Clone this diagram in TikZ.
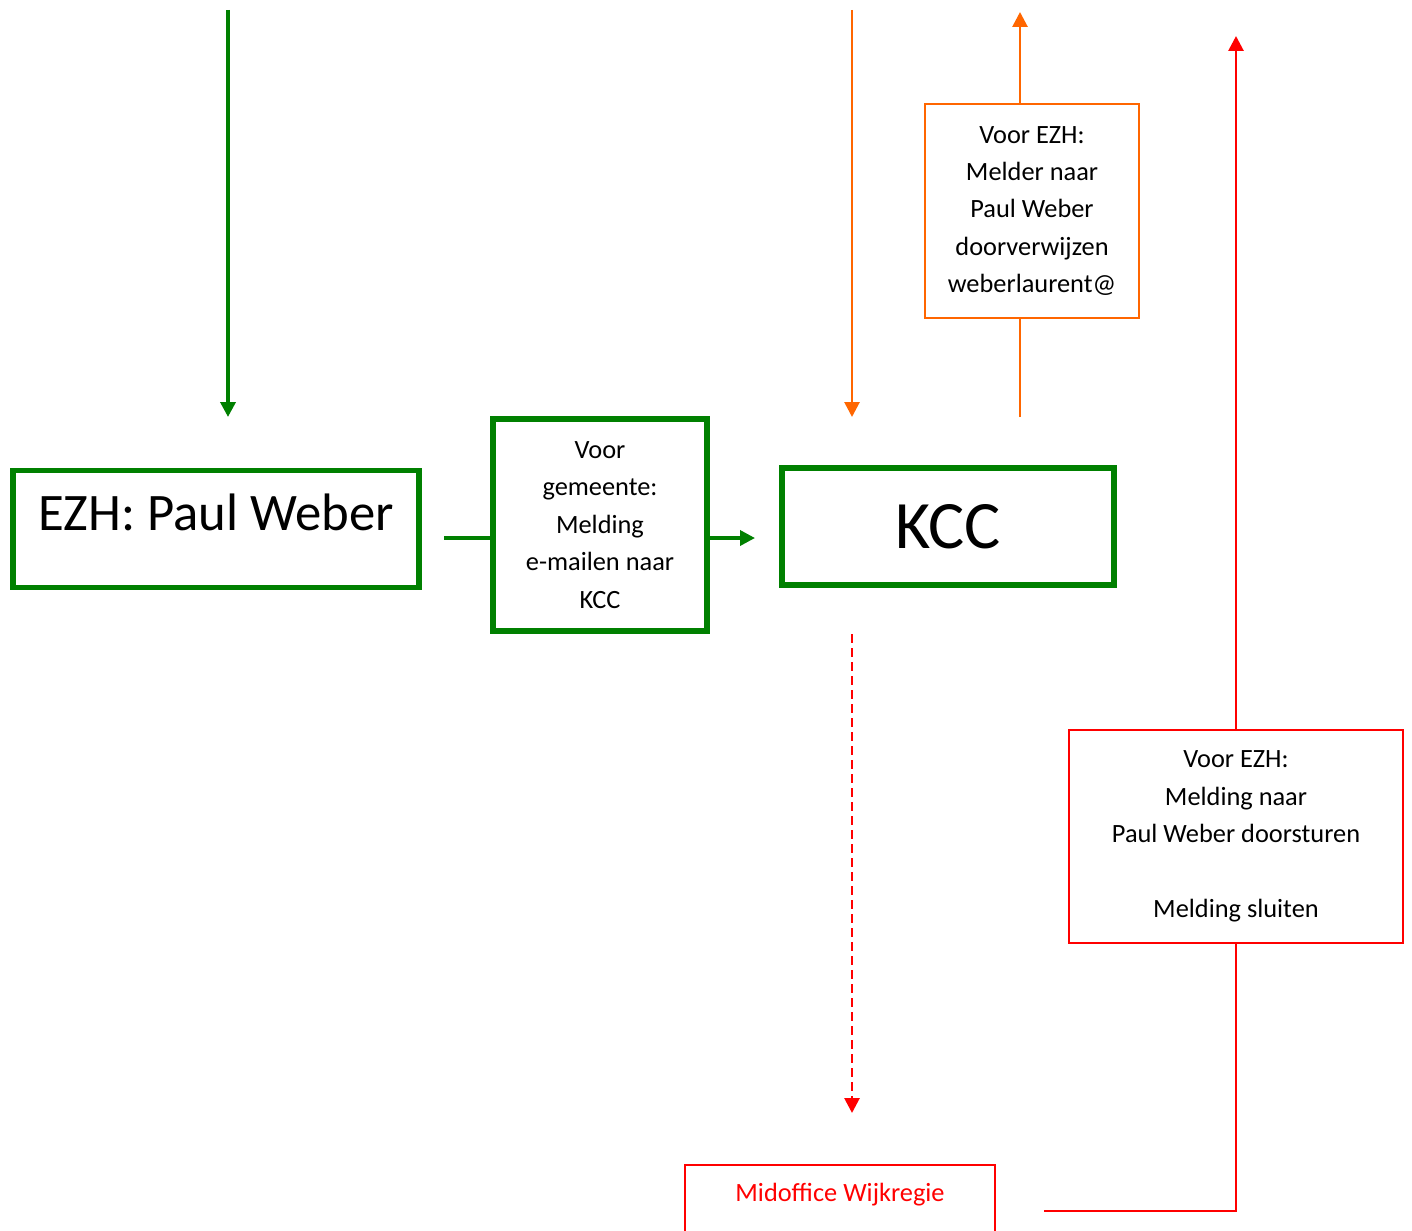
\documentclass[tikz,border=0pt]{standalone}
\usepackage{fontspec}
\setmainfont{Carlito}
\usetikzlibrary{arrows.meta}
\definecolor{flowgreen}{RGB}{0,128,0}
\definecolor{floworange}{RGB}{255,102,0}
\definecolor{flowred}{RGB}{255,0,0}

\begin{document}
\begin{tikzpicture}
    \tikzstyle{greenbox}=[draw=flowgreen,line width=3pt,align=center,font=\fontsize{15}{21.3}\selectfont]
    \tikzstyle{thinbox}=[line width=1.2pt,align=center,font=\fontsize{15}{21.3}\selectfont]
    \tikzstyle{greenline}=[draw=flowgreen,line width=2pt]
    \tikzstyle{orangeline}=[draw=floworange,line width=1.6pt]
    \tikzstyle{redline}=[draw=flowred,line width=1.6pt]
    \tikzstyle{tip}=[-{Triangle[length=0.3cm,width=0.3cm]}]
    \useasboundingbox (0,0) rectangle (28.24,-24.6);
    % boxes
    \node (ezh)[greenbox,anchor=north,minimum width=8.12cm,inner ysep=0pt,text height=1.2cm,text depth=1.14cm,font=\fontsize{30}{36}\selectfont] at (4.32,-9.36) {EZH: Paul Weber};
    \node (mail)[greenbox,minimum width=4.28cm,minimum height=4.24cm] at (12.0,-10.5) {Voor\\gemeente:\\Melding\\e-mailen naar\\KCC};
    \node (kcc)[greenbox,minimum width=6.64cm,minimum height=2.34cm,font=\fontsize{38.6}{46}\selectfont] at (18.96,-10.53) {KCC};
    \node (refer)[thinbox,draw=floworange,minimum width=4.28cm,minimum height=4.28cm] at (20.64,-4.22) {Voor EZH:\\Melder naar\\Paul Weber\\doorverwijzen\\weberlaurent@};
    \node (forward)[thinbox,draw=flowred,minimum width=6.68cm,minimum height=4.26cm] at (24.72,-16.73) {Voor EZH:\\Melding naar\\Paul Weber doorsturen\\~\\Melding sluiten};
    \node (mid)[thinbox,draw=flowred,text=flowred,anchor=north,minimum width=6.2cm,inner ysep=0pt,text height=0.72cm,text depth=1.28cm] at (16.8,-23.28) {Midoffice Wijkregie};
    % free ends
    \coordinate (gtop) at (4.56,-0.2);
    \coordinate (gend) at (4.56,-8.34);
    \coordinate (gin) at (8.88,-10.76);
    \coordinate (gout) at (15.1,-10.76);
    \coordinate (otop) at (17.04,-0.2);
    \coordinate (oend) at (17.04,-8.34);
    \coordinate (obot) at (20.4,-8.34);
    \coordinate (otip) at (20.4,-0.24);
    \coordinate (dtop) at (17.04,-12.68);
    \coordinate (dend) at (17.04,-22.26);
    \coordinate (rin) at (20.88,-24.22);
    \coordinate (rtip) at (24.72,-0.72);
    % connectors
    \draw[greenline,tip] (gtop) -- (gend);
    \draw[greenline] (gin) -- (gin -| mail.west);
    \draw[greenline,tip] (gin -| mail.east) -- (gout);
    \draw[orangeline,tip] (otop) -- (oend);
    \draw[orangeline] (obot) -- (obot |- refer.south);
    \draw[orangeline,tip] (refer.north -| obot) -- (otip);
    \draw[redline,tip,dash pattern=on 0.18cm off 0.1cm] (dtop) -- (dend);
    \draw[redline] (rin) -| (forward.south);
    \draw[redline,tip] (forward.north) -- (rtip);
\end{tikzpicture}
\end{document}
